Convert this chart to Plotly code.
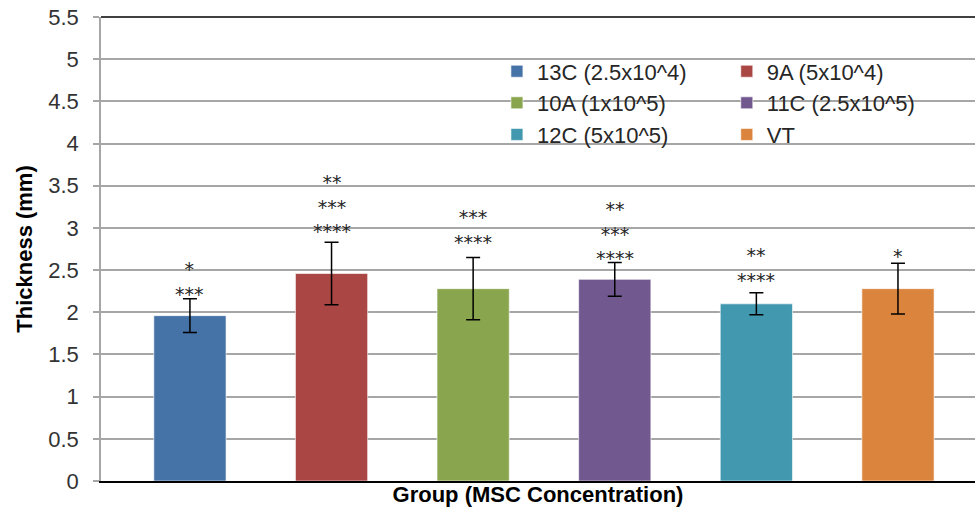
import plotly.graph_objects as go

groups = ["13C (2.5x10^4)", "9A (5x10^4)", "10A (1x10^5)", "11C (2.5x10^5)", "12C (5x10^5)", "VT"]
means = [1.96, 2.46, 2.28, 2.39, 2.10, 2.28]
errors = [0.20, 0.37, 0.37, 0.20, 0.13, 0.30]
stars = [["*", "***"], ["**", "***", "****"], ["***", "****"], ["**", "***", "****"], ["**", "****"], ["*"]]
y_ticks = [0, 0.5, 1, 1.5, 2, 2.5, 3, 3.5, 4, 4.5, 5, 5.5]

colors = ["#4572A7", "#AA4643", "#89A54E", "#71588F", "#4198AF", "#DB843D"]
legend_of = ["legend", "legend2", "legend", "legend2", "legend", "legend2"]
star_shift = [-8, -2, 2, -8, 0, -6]

FONT = "Liberation Sans"

fig = go.Figure()
for i, g in enumerate(groups):
    fig.add_trace(go.Bar(
        x=[g], y=[means[i]], name=g, width=0.51,
        marker=dict(color=colors[i], line=dict(color="rgba(255,255,255,0.6)", width=1)),
        error_y=dict(type="data", array=[errors[i]], visible=True, color="#000000", thickness=1.5, width=7),
        legend=legend_of[i], showlegend=True,
    ))
    fig.add_annotation(
        x=g, y=means[i] + errors[i], xref="x", yref="y",
        text="<br>".join(stars[i]), showarrow=False, yanchor="bottom", align="center",
        yshift=star_shift[i],
        font=dict(family="DejaVu Sans", size=19, color="#262626"),
    )

# white panel behind the legends (covers gridlines, as in the reference)
fig.add_shape(type="rect", xref="paper", yref="paper", x0=0.446, x1=0.967, y0=0.732, y1=0.93,
              fillcolor="white", line=dict(width=0), layer="between")
# dark top border of the plot area
fig.add_shape(type="line", xref="paper", yref="paper", x0=0, x1=1, y0=1, y1=1,
              line=dict(color="#000000", width=1.5))

leg_common = dict(xanchor="left", yanchor="top", bgcolor="rgba(255,255,255,0)",
                  font=dict(family=FONT, size=22, color="#262626"), traceorder="normal",
                  itemwidth=30, tracegroupgap=0)
fig.update_layout(
    width=975, height=517,
    margin=dict(l=101, r=0, t=17, b=36),
    paper_bgcolor="white", plot_bgcolor="white",
    barmode="overlay",
    font=dict(family=FONT, color="#262626"),
    legend=dict(x=0.453, y=0.928, **leg_common),
    legend2=dict(x=0.716, y=0.928, **leg_common),
    xaxis=dict(
        type="category", range=[-0.628, 5.544], showticklabels=False, ticks="",
        showline=True, linecolor="#000000", linewidth=1.5, showgrid=False, zeroline=False,
        title=dict(text="<b>Group (MSC Concentration)</b>", font=dict(family=FONT, size=22, color="#000000"), standoff=5),
    ),
    yaxis=dict(
        range=[0, 5.5], tickvals=y_ticks, ticktext=[f"{v:g}" for v in y_ticks],
        showgrid=True, gridcolor="#A6A6A6", gridwidth=1.5, zeroline=False,
        showline=True, linecolor="#A6A6A6", linewidth=1.5,
        ticks="outside", ticklen=6, tickcolor="#A6A6A6", tickwidth=1.5,
        ticklabelstandoff=10,
        tickfont=dict(family=FONT, size=22, color="#333333"),
        title=dict(text="<b>Thickness (mm)</b>", font=dict(family=FONT, size=22, color="#000000"), standoff=10),
    ),
)

fig.write_html("out.html")
